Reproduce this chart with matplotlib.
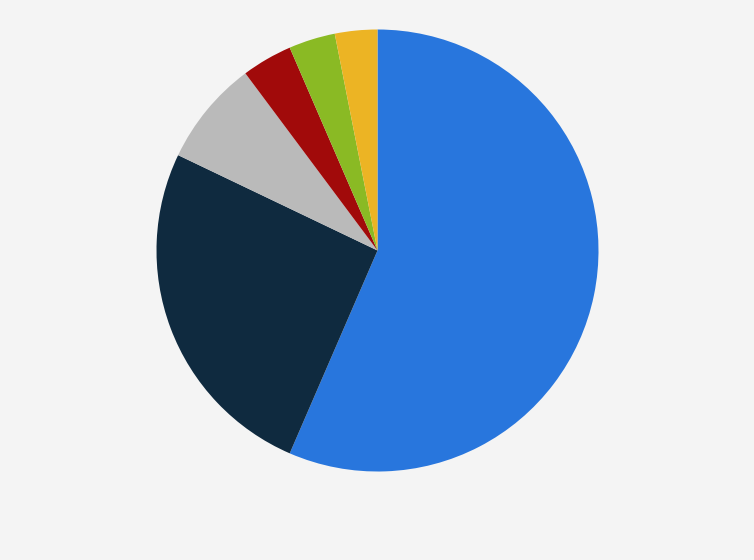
import matplotlib
matplotlib.use("Agg")
from matplotlib import pyplot as plt

# slice shares in percent, clockwise from 12 o'clock
labels = ["A", "B", "C", "D", "E", "F"]
shares = [56.5, 25.6, 7.7, 3.7, 3.4, 3.1]
colors = ["#2876dd", "#0f2a3f", "#bababa", "#a10a0a", "#8aba24", "#ecb424"]

fig = plt.figure(figsize=(7.54, 5.60), dpi=100)
fig.patch.set_facecolor("#f4f4f4")

# axes placed so the pie is centred at (377, 250) with radius ~221 px
r = 221
cx, cy = 377.5, 250.5
ax = fig.add_axes([(cx - r) / 754, 1 - (cy + r) / 560, 2 * r / 754, 2 * r / 560])
ax.set_facecolor("#f4f4f4")

ax.pie(shares, colors=colors, startangle=90, counterclock=False,
       radius=1.0, wedgeprops={"linewidth": 0})
ax.set_xlim(-1, 1)
ax.set_ylim(-1, 1)
ax.set_aspect("equal")
ax.axis("off")

plt.savefig("out.png", facecolor=fig.get_facecolor())
